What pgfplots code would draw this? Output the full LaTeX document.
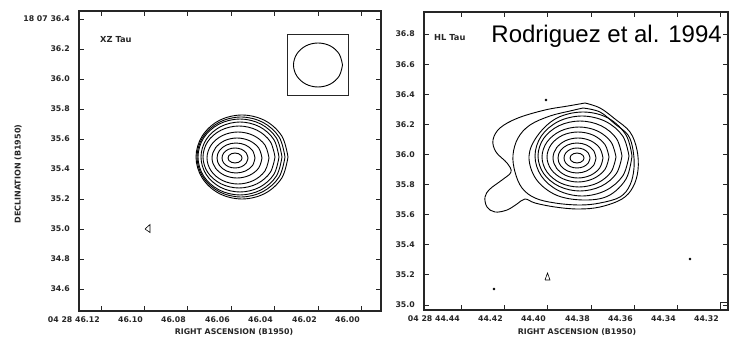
\documentclass[border=0pt]{standalone}
\usepackage{fontspec}
\setmainfont{Liberation Sans}
\newfontfamily\dejavu{DejaVu Sans}
\usepackage{pgfplots}
\pgfplotsset{compat=1.18}
\begin{document}
\begin{tikzpicture}[x=1pt,y=1pt]
\fill[white] (0,0) rectangle (738,337);
\useasboundingbox (0,0) rectangle (738,337);
\pgfplotsset{
  panel/.style={scale only axis, anchor=south west,
    axis line style={line width=1.2pt, black!85},
    tick align=inside, major tick length=5pt,
    tick style={line width=0.8pt, black!85},
    xtick pos=both, ytick pos=both,
    xticklabel pos=bottom, yticklabel pos=left,
    tick label style={font=\dejavu\fontsize{7.8}{9}\selectfont\bfseries, text=black!85},
    xticklabel style={anchor=north east, inner sep=0pt, yshift=-6pt, xshift=-1pt},
    yticklabel style={anchor=east, inner sep=0pt, xshift=-9pt},
    clip=true},
  cont/.style={black, line width=0.9pt, smooth, tension=0.6, mark=none},
}
% ---------------- left panel: XZ Tau ----------------
\begin{axis}[panel, at={(79pt,26pt)}, width=302pt, height=300pt,
  xmin=79, xmax=381, ymin=26, ymax=326,
  xtick={101,144,187,231,274,318,361},
  xticklabels={04 28 46.12, 46.10, 46.08, 46.06, 46.04, 46.02, 46.00},
  ytick={48,78,108,138,168,198,228,258,288,318},
  yticklabels={34.6, 34.8, 35.0, 35.2, 35.4, 35.6, 35.8, 36.0, 36.2, 18 07 36.4}]
\addplot[cont] coordinates {(242,179) (241.1,181.5) (238.5,183.3) (235,184) (231.5,183.3) (228.9,181.5) (228,179) (228.9,176.5) (231.5,174.7) (235,174) (238.5,174.7) (241.1,176.5) (242,179)};
\addplot[cont] coordinates {(248,179) (246.3,184) (241.5,187.7) (235,189) (228.5,187.7) (223.7,184) (222,179) (223.7,174) (228.5,170.3) (235,169) (241.5,170.3) (246.3,174) (248,179)};
\addplot[cont] coordinates {(255,179) (252.5,186.5) (245.5,192) (236,194) (226.5,192) (219.5,186.5) (217,179) (219.5,171.5) (226.5,166) (236,164) (245.5,166) (252.5,171.5) (255,179)};
\addplot[cont] coordinates {(262,179) (258.7,189) (249.5,196.3) (237,199) (224.5,196.3) (215.4,189) (212,179) (215.4,169) (224.5,161.7) (237,159) (249.5,161.7) (258.7,169) (262,179)};
\addplot[cont] coordinates {(269,179) (264.9,192) (253.5,201.5) (238,205) (222.5,201.5) (211.2,192) (207,179) (211.2,166) (222.5,156.5) (238,153) (253.5,156.5) (264.9,166) (269,179)};
\addplot[cont] coordinates {(275,180) (270.2,195.5) (257,206.8) (239,211) (221,206.8) (207.8,195.5) (203,180) (207.8,164.5) (221,153.2) (239,149) (257,153.2) (270.2,164.5) (275,180)};
\addplot[cont] coordinates {(279,180) (273.8,197.5) (259.5,210.3) (240,215) (220.5,210.3) (206.2,197.5) (201,180) (206.2,162.5) (220.5,149.7) (240,145) (259.5,149.7) (273.8,162.5) (279,180)};
\addplot[cont] coordinates {(282,180) (276.4,199) (261,212.9) (240,218) (219,212.9) (203.6,199) (198,180) (203.6,161) (219,147.1) (240,142) (261,147.1) (276.4,161) (282,180)};
\addplot[cont] coordinates {(285,180) (279.1,200) (263,214.6) (241,220) (219,214.6) (202.9,200) (197,180) (202.9,160) (219,145.4) (241,140) (263,145.4) (279.1,160) (285,180)};
\addplot[cont] coordinates {(288,180) (281.8,201) (265,216.4) (242,222) (219,216.4) (202.2,201) (196,180) (202.2,159) (219,143.6) (242,138) (265,143.6) (281.8,159) (288,180)};
% small feature
\addplot[black, line width=0.6pt, mark=none] coordinates {(145,108) (150,112.5) (150,104.5) (145,108)};
% beam box
\addplot[black!85, line width=0.9pt, mark=none] coordinates {(287,303) (348,303) (348,242) (287,242) (287,303)};
\addplot[cont] coordinates {(342.5,272) (339.2,283) (330.3,291.1) (318,294) (305.8,291.1) (296.8,283) (293.5,272) (296.8,261) (305.8,252.9) (318,250) (330.3,252.9) (339.2,261) (342.5,272)};
\end{axis}
% ---------------- right panel: HL Tau ----------------
\begin{axis}[panel, at={(424pt,27pt)}, width=304pt, height=298pt,
  xmin=424, xmax=728, ymin=27, ymax=325,
  xtick={461,504,547,591,634,677,720},
  xticklabels={04 28 44.44, 44.42, 44.40, 44.38, 44.36, 44.34, 44.32},
  ytick={32,62.1,92.2,122.3,152.4,182.5,212.6,242.7,272.8,302.9},
  yticklabels={35.0, 35.2, 35.4, 35.6, 35.8, 36.0, 36.2, 36.4, 36.6, 36.8}]
\addplot[cont] coordinates {(584,179) (583.1,181.5) (580.5,183.3) (577,184) (573.5,183.3) (570.9,181.5) (570,179) (570.9,176.5) (573.5,174.7) (577,174) (580.5,174.7) (583.1,176.5) (584,179)};
\addplot[cont] coordinates {(590,179) (588.3,184) (583.5,187.7) (577,189) (570.5,187.7) (565.7,184) (564,179) (565.7,174) (570.5,170.3) (577,169) (583.5,170.3) (588.3,174) (590,179)};
\addplot[cont] coordinates {(596,179) (593.5,186.5) (586.5,192) (577,194) (567.5,192) (560.5,186.5) (558,179) (560.5,171.5) (567.5,166) (577,164) (586.5,166) (593.5,171.5) (596,179)};
\addplot[cont] coordinates {(603,179) (599.7,189) (590.5,196.3) (578,199) (565.5,196.3) (556.4,189) (553,179) (556.4,169) (565.5,161.7) (578,159) (590.5,161.7) (599.7,169) (603,179)};
\addplot[cont] coordinates {(609,180) (604.9,192.5) (593.5,201.7) (578,205) (562.5,201.7) (551.2,192.5) (547,180) (551.2,167.5) (562.5,158.4) (578,155) (593.5,158.4) (604.9,167.5) (609,180)};
\addplot[cont] coordinates {(616,180) (611,195) (597.5,206) (579,210) (560.5,206) (547,195) (542,180) (547,165) (560.5,154) (579,150) (597.5,154) (611,165) (616,180)};
\addplot[cont] coordinates {(622,181) (616.4,198.5) (601,211.3) (580,216) (559,211.3) (543.6,198.5) (538,181) (543.6,163.5) (559,150.7) (580,146) (601,150.7) (616.4,163.5) (622,181)};
\addplot[cont] coordinates {(629,181) (622.7,201) (605.5,215.6) (582,221) (558.5,215.6) (541.3,201) (535,181) (541.3,161) (558.5,146.4) (582,141) (605.5,146.4) (622.7,161) (629,181)};
\addplot[cont] coordinates {(632,181) (626,202) (608,219) (583,225) (557,219) (538,202) (529,181) (536,158) (556,142) (583,137) (608,141) (626,158) (632,181)};
\addplot[cont] coordinates {(583,229) (600,225) (615,213) (628,202) (633,187) (634,169) (630,152) (620,140) (600,134) (580,132) (555,134) (535,139) (522,149) (515,165) (513,182) (518,199) (530,212) (550,221) (570,226) (583,229)};
\addplot[cont] coordinates {(585,234) (600,229) (615,218) (630,205) (637,187) (638,167) (633,150) (622,138) (600,130) (578,128) (555,130) (535,134) (525,138) (517,133) (507,127) (495,125) (487,130) (485,140) (490,148) (502,157) (511,165) (507,174) (496,185) (493,197) (500,209) (518,219) (545,227) (568,231) (585,234)};
% small features
\addplot[black, line width=0.6pt, mark=none] coordinates {(545,57) (550,57) (547.5,64) (545,57)};
\addplot[black, only marks, mark=*, mark size=1.1pt] coordinates {(494,48) (690,78) (546,237)};
\addplot[black!85, line width=0.9pt, mark=none] coordinates {(720,27) (720,35) (728,35)};
\end{axis}
% ---------------- texts ----------------
\node[anchor=west, inner sep=0pt, font=\dejavu\fontsize{8.3}{10}\selectfont\bfseries, text=black!85] at (100pt,297pt) {XZ Tau};
\node[anchor=west, inner sep=0pt, font=\dejavu\fontsize{8.3}{10}\selectfont\bfseries, text=black!85] at (434pt,299pt) {HL Tau};
\node[anchor=base east, inner sep=0pt, font=\fontsize{24}{28}\selectfont] at (722pt,294pt) {Rodriguez et al. 1994};
\node[inner sep=0pt, font=\dejavu\fontsize{7.8}{9}\selectfont\bfseries, text=black!85] at (234pt,4.5pt) {RIGHT ASCENSION (B1950)};
\node[inner sep=0pt, font=\dejavu\fontsize{7.8}{9}\selectfont\bfseries, text=black!85] at (577pt,4.5pt) {RIGHT ASCENSION (B1950)};
\node[inner sep=0pt, rotate=90, font=\dejavu\fontsize{8}{10}\selectfont\bfseries, text=black!85] at (18pt,163pt) {DECLINATION (B1950)};
\end{tikzpicture}
\end{document}
